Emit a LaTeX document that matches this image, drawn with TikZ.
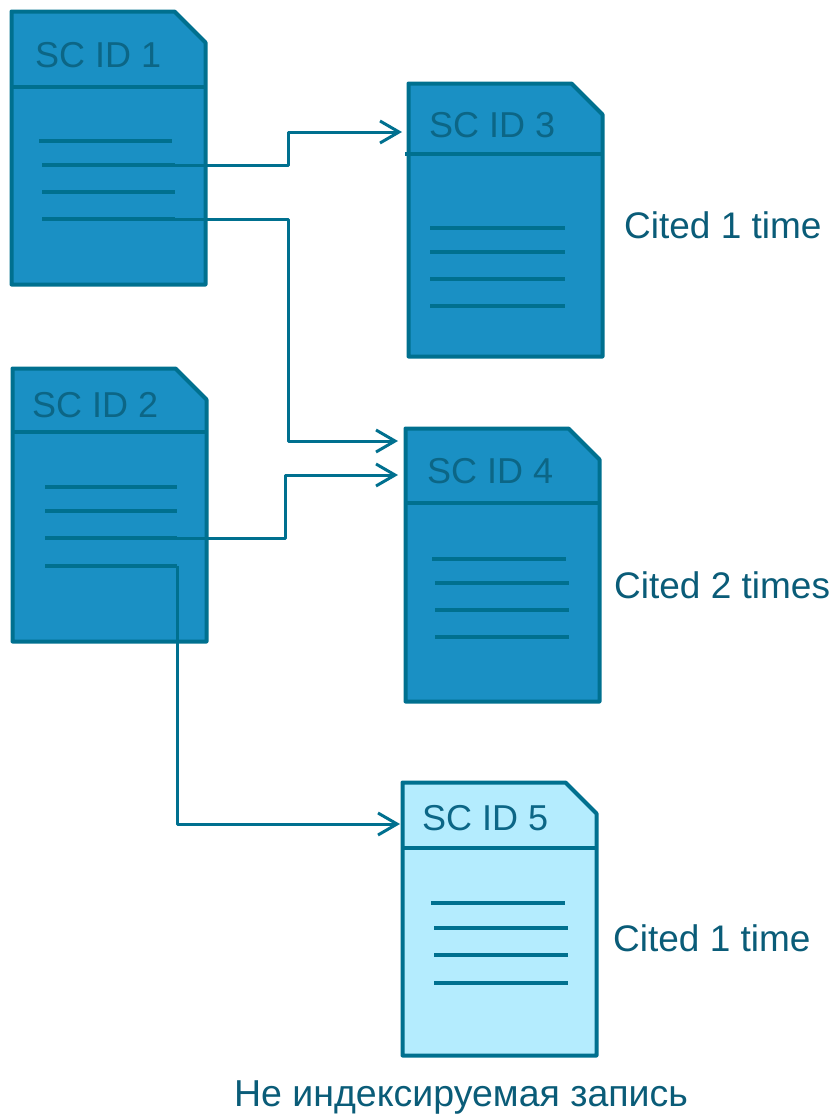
\documentclass[tikz,border=0pt]{standalone}
\usepackage{fontspec}
\setmainfont{Liberation Sans}
\usetikzlibrary{arrows.meta}

\definecolor{docblue}{HTML}{1A90C4}
\definecolor{doclight}{HTML}{B4ECFE}
\definecolor{docedge}{HTML}{00708F}
\definecolor{doctitle}{HTML}{0C6686}
\definecolor{doctext}{HTML}{0A5C78}

% dog-eared page drawn around a rectangle node
\newcommand{\paperoutline}[2]{%
  \draw[edge, fill=#2] (#1.south west) |- ([xshift=-31pt]#1.north east)
    -- ([yshift=-31pt]#1.north east) -- (#1.south east) -- cycle;}

\begin{document}
\begin{tikzpicture}[x=1pt, y=-1pt, line join=round,
    paper/.style={minimum width=194pt, minimum height=273pt, inner sep=0pt, outer sep=0pt},
    edge/.style={draw=docedge, line width=4pt},
    textline/.style={draw=docedge, line width=3.5pt},
    cite/.style={draw=docedge, line width=3pt, -{Straight Barb[length=19pt, width=22pt]}},
    title/.style={anchor=west, inner sep=0pt, text=doctitle, font=\fontsize{36}{40}\selectfont},
    count/.style={anchor=west, inner sep=0pt, text=doctext, font=\fontsize{37}{42}\selectfont}]
        \useasboundingbox (0,0) rectangle (837,1117);

        % Pages
        \node[paper] (d1) at (108.5,148) {};
        \node[paper] (d2) at (109.5,505) {};
        \node[paper] (d3) at (505.5,220) {};
        \node[paper] (d4) at (502.5,565) {};
        \node[paper] (d5) at (499.5,919) {};
        \paperoutline{d1}{docblue}
        \paperoutline{d2}{docblue}
        \paperoutline{d3}{docblue}
        \paperoutline{d4}{docblue}
        \paperoutline{d5}{doclight}

        % Header rules
        \draw[edge] (d1.west |- 0,87) -- (d1.east |- 0,87);
        \draw[edge] (d2.west |- 0,432) -- (d2.east |- 0,432);
        \draw[edge] (405,154) -- (d3.east |- 0,154);
        \draw[edge] (d4.west |- 0,503) -- (d4.east |- 0,503);
        \draw[edge] (d5.west |- 0,848) -- (d5.east |- 0,848);

        % Titles
        \node[title] (t1) at (35,55) {SC ID 1};
        \node[title] (t2) at (32,405) {SC ID 2};
        \node[title] (t3) at (429,125) {SC ID 3};
        \node[title] (t4) at (427,471) {SC ID 4};
        \node[title] (t5) at (422,818) {SC ID 5};

        % Lines of text
        \draw[textline] (39,141) -- (172,141);
        \foreach \y [count=\i from 2] in {165,192,219}
            \draw[textline] (42,\y) -- (175,\y) coordinate (d1l\i);
        \foreach \y [count=\i] in {487,511,538,566}
            \draw[textline] (45,\y) -- (177,\y) coordinate (d2l\i);
        \foreach \y in {228,252,279,306}
            \draw[textline] (430,\y) -- (565,\y);
        \draw[textline] (432,559) -- (566,559);
        \foreach \y in {583,610,637}
            \draw[textline] (435,\y) -- (569,\y);
        \draw[textline] (431,903) -- (565,903);
        \foreach \y in {928,955,983}
            \draw[textline] (434,\y) -- (568,\y);

        % Arrow ends
        \coordinate (in3) at (402,132);
        \coordinate (in4a) at (398,441);
        \coordinate (in4b) at (398,475);
        \coordinate (in5) at (400,824);

        % Citations
        \draw[cite] (d1l2) -- (288,165) |- (in3);
        \draw[cite] (d1l4) -- (288,219) |- (in4a);
        \draw[cite] (d2l3) -- (285,538) |- (in4b);
        \draw[cite] (d2l4) |- (in5);

        % Counts
        \node[count] (c3) at (624,225) {Cited 1 time};
        \node[count] (c4) at (614,585) {Cited 2 times};
        \node[count] (c5) at (613,938) {Cited 1 time};
        \node[anchor=base, inner sep=0pt, text=doctext, font=\fontsize{37.5}{42}\selectfont] (note) at (461,1106) {Не индексируемая запись};
    \end{tikzpicture}
\end{document}
